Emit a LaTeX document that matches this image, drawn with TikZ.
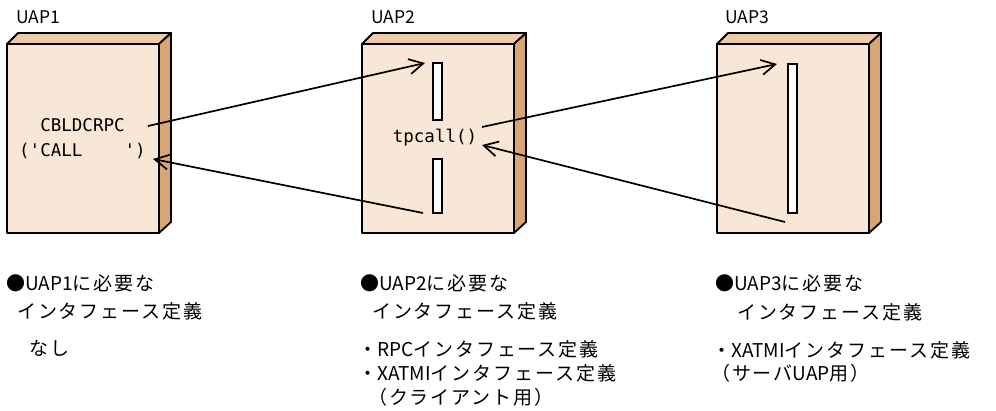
\documentclass[tikz,border=0pt]{standalone}
\usepackage{fontspec}
\setmainfont{Noto Sans CJK JP}
\newfontfamily\jpsp[LetterSpace=10]{Noto Sans CJK JP}
\newfontfamily\codefont{DejaVu Sans Mono}
\usetikzlibrary{arrows.meta}
\definecolor{frontc}{HTML}{F8E6D6}
\definecolor{topc}{HTML}{EDCAA8}
\definecolor{sidec}{HTML}{D8A676}
\newcommand{\J}[1]{{\jpsp #1}}
\begin{document}
\begin{tikzpicture}[x=1pt,y=-1pt,
  lbl/.style={inner sep=0pt, anchor=west, font=\fontsize{19}{22}\selectfont},
  toplbl/.style={inner sep=0pt, anchor=west, font=\fontsize{17.5}{20}\selectfont},
  code/.style={inner sep=0pt, font=\codefont\fontsize{17.5}{20}\selectfont},
  front/.style={draw=black, line width=1.8pt, fill=frontc, minimum width=152pt, minimum height=189pt, anchor=north west, inner sep=0pt, outer sep=0pt, line join=round},
  topf/.style={draw=black, line width=1.8pt, fill=topc, line join=round},
  sidef/.style={draw=black, line width=1.8pt, fill=sidec, line join=round},
  slot/.style={draw=black, line width=1.5pt, fill=white, minimum width=9pt, inner sep=0pt, outer sep=0pt, anchor=north},
  arr/.style={line width=1.7pt, -{Straight Barb[length=14pt,width=15pt,line width=1.7pt]}}
]
\useasboundingbox (0,0) rectangle (996,411);

% boxes
\foreach \nm/\xx in {b1/7,b2/362,b3/717}{
  \node[front] (\nm) at (\xx,44) {};
  \draw[topf] (\nm.north west) -- ++(11,-11) -- ([shift={(12,-11)}]\nm.north east) -- (\nm.north east) -- cycle;
  \draw[sidef] (\nm.north east) -- ++(12,-11) -- ([shift={(12,-11)}]\nm.south east) -- (\nm.south east) -- cycle;
}

% titles
\node[toplbl] (t1) at (16,17) {UAP1};
\node[toplbl] (t2) at (371,17) {UAP2};
\node[toplbl] (t3) at (725,17) {UAP3};

% slots
\node[slot, minimum height=57pt] (s2a) at (437.5,63) {};
\node[slot, minimum height=54pt] (s2b) at (437.5,159) {};
\node[slot, minimum height=149pt] (s3) at (792.5,64) {};

% code texts
\node[code] (cbl) at (82.5,125) {CBLDCRPC};
\node[code, anchor=west] (call) at (19,151) {('CALL\phantom{XXXX}')};
\node[code] (tpc) at (435,138) {tpcall()};

% arrow end points
\coordinate (p1) at (148,126);
\coordinate (p2) at (153,159);
\coordinate (p3) at (482,127);
\coordinate (p4) at (482,145);

\draw[arr] (p1) -- ([xshift=-8pt]s2a.north west);
\draw[arr] ([xshift=-10pt]s2b.south west) -- (p2);
\draw[arr] (p3) -- ([xshift=-11pt]s3.north west);
\draw[arr] ([xshift=-3pt,yshift=-9pt]s3.south west) -- (p4);

% bottom descriptions
\node[lbl] (d1a) at (6,283) {●UAP1\J{に必要な}};
\node[lbl] (d1b) at (17,311) {\J{インタフェース定義}};
\node[lbl] (d1c) at (29,348) {\J{なし}};

\node[lbl] (d2a) at (360,283) {●UAP2\J{に必要な}};
\node[lbl] (d2b) at (372,311) {\J{インタフェース定義}};
\node[lbl] (d2c) at (358,349) {\J{・}RPC\J{インタフェース定義}};
\node[lbl] (d2d) at (358,373) {\J{・}XATMI\J{インタフェース定義}};
\node[lbl] (d2e) at (368,397) {\J{（クライアント用）}};

\node[lbl] (d3a) at (715,283) {●UAP3\J{に必要な}};
\node[lbl] (d3b) at (737,312) {\J{インタフェース定義}};
\node[lbl] (d3c) at (712,350) {\J{・}XATMI\J{インタフェース定義}};
\node[lbl] (d3d) at (711,373) {\J{（サーバ}UAP\J{用）}};
\end{tikzpicture}
\end{document}
